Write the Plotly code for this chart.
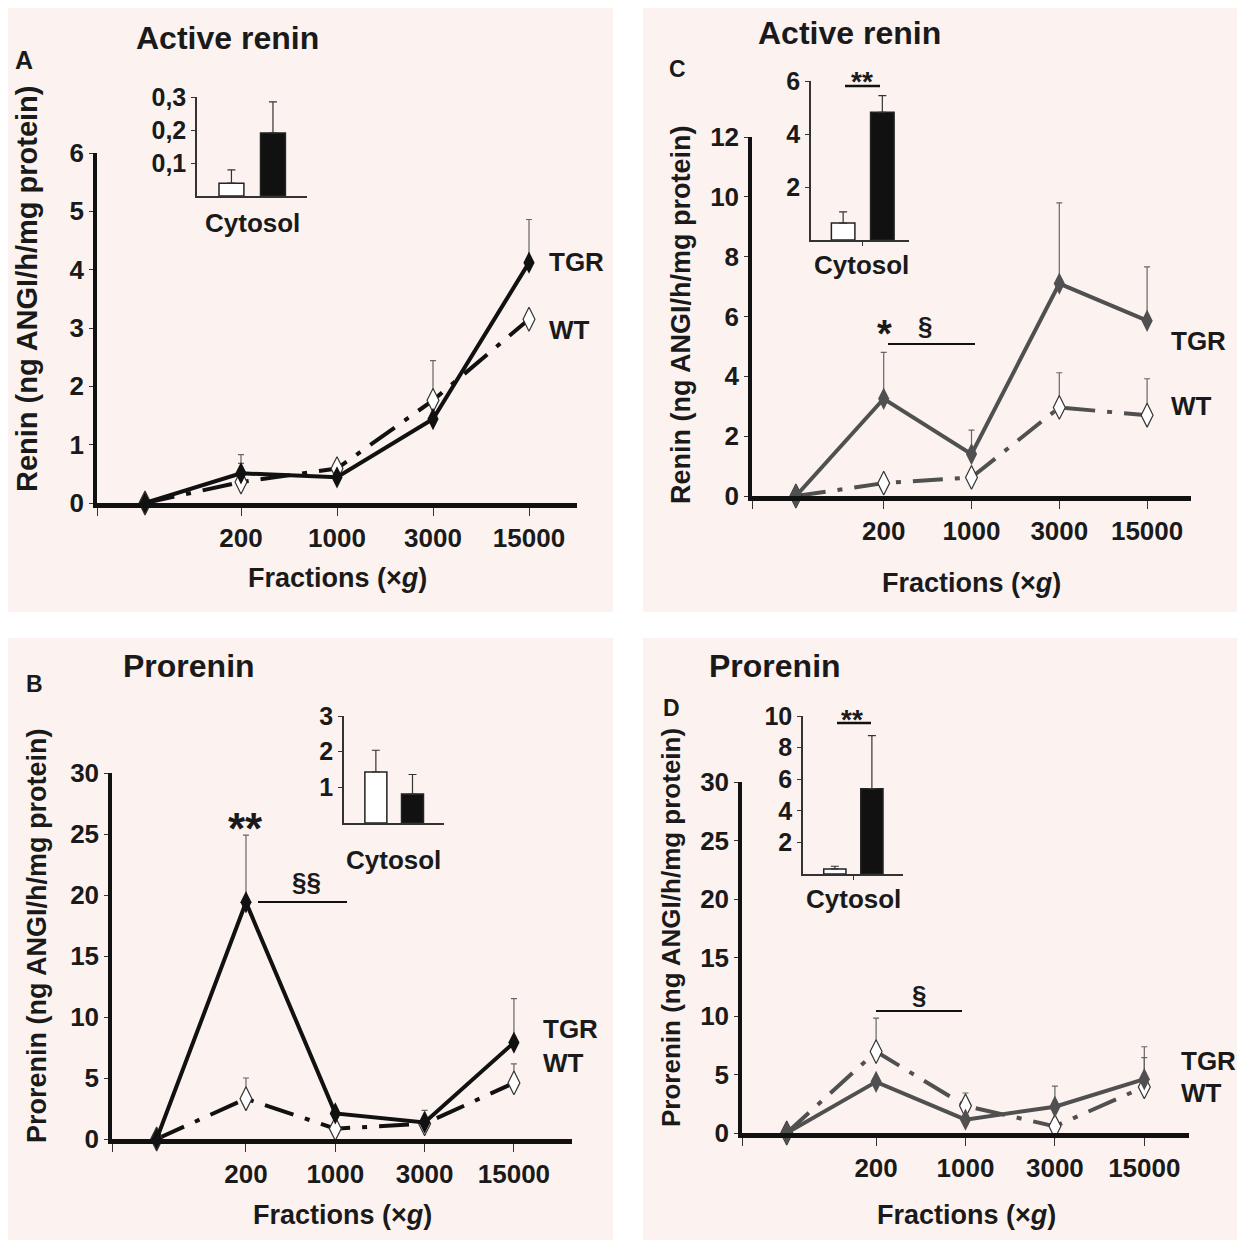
import plotly.graph_objects as go

# page offset (browser body margin) -> figure occupies screen px 8..1245
OFF = 8
W, H = 1245 - OFF, 1240 - OFF

# ---------------- data ----------------
fractions = ["", "200", "1000", "3000", "15000"]
xpos = [0, 1, 2, 3, 4]
groups = ["WT", "TGR"]

# Panel A - Active renin (black)
a_tgr = [0, 0.51, 0.44, 1.44, 4.12]
a_tgr_err = [None, 0.32, None, None, 0.74]
a_wt = [0, 0.36, 0.59, 1.76, 3.15]
a_wt_err = [None, 0.32, 0.11, 0.68, None]
a_cyto = [0.039, 0.191]
a_cyto_err = [0.040, 0.094]

# Panel C - Active renin (grey)
c_tgr = [0, 3.25, 1.40, 7.10, 5.86]
c_tgr_err = [None, 1.55, 0.80, 2.70, 1.80]
c_wt = [0, 0.43, 0.62, 2.96, 2.70]
c_wt_err = [None, None, None, 1.16, 1.22]
c_cyto = [0.64, 4.82]
c_cyto_err = [0.42, 0.63]

# Panel B - Prorenin (black)
b_tgr = [0, 19.4, 2.10, 1.35, 7.90]
b_tgr_err = [None, 5.5, None, 1.0, 3.6]
b_wt = [0, 3.30, 0.85, 1.25, 4.60]
b_wt_err = [None, 1.7, None, None, 1.55]
b_cyto = [1.43, 0.81]
b_cyto_err = [0.61, 0.55]

# Panel D - Prorenin (grey)
d_tgr = [0, 4.37, 1.14, 2.25, 4.60]
d_tgr_err = [None, None, None, 1.75, 2.77]
d_wt = [0, 6.96, 2.32, 0.57, 3.94]
d_wt_err = [None, 2.86, 1.10, None, 2.50]
d_cyto = [0.32, 5.40]
d_cyto_err = [0.17, 3.36]

# ---------------- layout helpers ----------------
FONT = "Liberation Sans, Arial, sans-serif"
TXT = "#1a1a1a"
PINK = "#fcf3f0"


def X(p):
    return (p - OFF) / W


def Y(p):
    return 1 - (p - OFF) / H


panels = [
    dict(tgr=a_tgr, tgr_err=a_tgr_err, wt=a_wt, wt_err=a_wt_err, cyto=a_cyto, cyto_err=a_cyto_err,
         color="#111111", main=(97, 577, 503, 153), xr=[-0.5, 4.5], yr=[0, 6], yticks=list(range(0, 7)),
         inset=(197, 307, 196, 97), ixr=[-0.83, 1.82], iyr=[0, 0.3],
         itv=[0.1, 0.2, 0.3], itt=["0,1", "0,2", "0,3"], imid=False),
    dict(tgr=c_tgr, tgr_err=c_tgr_err, wt=c_wt, wt_err=c_wt_err, cyto=c_cyto, cyto_err=c_cyto_err,
         color="#505050", main=(752, 1191, 496, 137), xr=[-0.5, 4.5], yr=[0, 12], yticks=list(range(0, 13, 2)),
         inset=(811, 909, 240, 81), ixr=[-0.82, 1.68], iyr=[0, 6],
         itv=[2, 4, 6], itt=["2", "4", "6"], imid=True),
    dict(tgr=b_tgr, tgr_err=b_tgr_err, wt=b_wt, wt_err=b_wt_err, cyto=b_cyto, cyto_err=b_cyto_err,
         color="#111111", main=(112, 572, 1139, 773), xr=[-0.5, 4.65], yr=[0, 30], yticks=list(range(0, 31, 5)),
         inset=(344, 444, 823, 716), ixr=[-0.87, 1.86], iyr=[0, 3],
         itv=[1, 2, 3], itt=["1", "2", "3"], imid=False),
    dict(tgr=d_tgr, tgr_err=d_tgr_err, wt=d_wt, wt_err=d_wt_err, cyto=d_cyto, cyto_err=d_cyto_err,
         color="#505050", main=(742, 1189, 1133, 782), xr=[-0.5, 4.5], yr=[0, 30], yticks=list(range(0, 31, 5)),
         inset=(803, 903, 874, 716), ixr=[-0.86, 1.84], iyr=[0, 10],
         itv=[2, 4, 6, 8, 10], itt=["2", "4", "6", "8", "10"], imid=True),
]

fig = go.Figure()
layout = dict(
    template="none",
    width=W, height=H, margin=dict(l=0, r=0, t=0, b=0, pad=0, autoexpand=False),
    paper_bgcolor="white", plot_bgcolor="rgba(0,0,0,0)",
    showlegend=False, font=dict(family=FONT, color=TXT),
)


def axname(k, letter):
    return f"{letter}axis" if k == 1 else f"{letter}axis{k}"


def ref(k, letter):
    return letter if k == 1 else f"{letter}{k}"


for i, p in enumerate(panels):
    km = i + 1
    ki = i + 5
    x0, x1, y0, y1 = p["main"]
    # main axes
    layout[axname(km, "x")] = dict(
        domain=[X(x0), X(x1)], anchor=ref(km, "y"), range=p["xr"], automargin=False,
        showline=True, linewidth=4.5, linecolor="#111111", mirror=False,
        ticks="outside", ticklen=8, tickwidth=1, tickcolor="#333333",
        tickvals=[-0.5] + xpos[1:], ticktext=fractions,
        tickfont=dict(size=26, weight="bold", family=FONT, color=TXT),
        showgrid=False, zeroline=False,
    )
    layout[axname(km, "y")] = dict(
        domain=[Y(y0), Y(y1)], anchor=ref(km, "x"), range=p["yr"], automargin=False,
        showline=True, linewidth=3.5, linecolor="#111111",
        ticks="outside", ticklen=4, tickwidth=1, tickcolor="#333333",
        tickvals=p["yticks"],
        tickfont=dict(size=26, weight="bold", family=FONT, color=TXT),
        showgrid=False, zeroline=False,
    )
    # inset axes
    ix0, ix1, iy0, iy1 = p["inset"]
    layout[axname(ki, "x")] = dict(
        domain=[X(ix0), X(ix1)], anchor=ref(ki, "y"), range=p["ixr"], automargin=False,
        showline=True, linewidth=1.5, linecolor="#333333",
        ticks="outside" if p["imid"] else "", ticklen=4, tickwidth=1, tickcolor="#333333",
        tickvals=[0.5] if p["imid"] else [], showticklabels=False,
        showgrid=False, zeroline=False,
    )
    layout[axname(ki, "y")] = dict(
        domain=[Y(iy0), Y(iy1)], anchor=ref(ki, "x"), range=p["iyr"], automargin=False,
        showline=True, linewidth=1.5, linecolor="#333333",
        ticks="outside", ticklen=4, tickwidth=1, tickcolor="#333333",
        tickvals=p["itv"], ticktext=p["itt"],
        tickfont=dict(size=25, weight="bold", family=FONT, color=TXT),
        showgrid=False, zeroline=False,
    )

    col = p["color"]
    # WT line (dash-dot, open diamonds)
    fig.add_trace(go.Scatter(
        x=xpos, y=p["wt"], mode="lines+markers",
        xaxis=ref(km, "x"), yaxis=ref(km, "y"),
        line=dict(color=col, width=4, dash="30px,12px,5px,12px"),
        marker=dict(symbol="diamond-tall", size=17, color="white", line=dict(color="#333333", width=1.2)),
        error_y=dict(type="data", array=p["wt_err"], arrayminus=[0] * 5, symmetric=False,
                     color="#666666", thickness=1.2, width=3),
        cliponaxis=False,
    ))
    # TGR line (solid, filled diamonds)
    fig.add_trace(go.Scatter(
        x=xpos, y=p["tgr"], mode="lines+markers",
        xaxis=ref(km, "x"), yaxis=ref(km, "y"),
        line=dict(color=col, width=4),
        marker=dict(symbol="diamond-tall", size=16, color=col, line=dict(width=0)),
        error_y=dict(type="data", array=p["tgr_err"], arrayminus=[0] * 5, symmetric=False,
                     color="#666666", thickness=1.2, width=3),
        cliponaxis=False,
    ))
    # inset bars
    fig.add_trace(go.Bar(
        x=[0, 1], y=p["cyto"], width=0.6,
        xaxis=ref(ki, "x"), yaxis=ref(ki, "y"),
        marker=dict(color=["white", "#111111"], line=dict(color="#222222", width=1.5)),
        error_y=dict(type="data", array=p["cyto_err"], arrayminus=[0, 0], symmetric=False,
                     color="#333333", thickness=1.2, width=4),
        customdata=groups,
    ))

# ---------------- background panels ----------------
shapes = []
for (px0, py0, px1, py1) in [(7, 4, 613, 612), (643, 4, 1245, 612), (7, 638, 613, 1240), (643, 638, 1245, 1240)]:
    shapes.append(dict(type="rect", xref="paper", yref="paper",
                       x0=max(X(px0), 0), x1=min(X(px1), 1), y0=max(Y(py1), 0), y1=min(Y(py0), 1),
                       fillcolor=PINK, line=dict(width=0), layer="below"))

# significance bars
for (sx0, sx1, sy, w) in [(888, 975, 344, 2), (845, 880, 86, 2.5), (258, 347, 902, 2),
                          (876, 962, 1011, 2), (837, 871, 723, 2.5)]:
    shapes.append(dict(type="line", xref="paper", yref="paper", x0=X(sx0), x1=X(sx1), y0=Y(sy), y1=Y(sy),
                       line=dict(color="#111111", width=w), layer="above"))

annotations = []


def ann(text, x, y, size, bold=True, angle=0, xanchor="center", color=TXT):
    annotations.append(dict(
        text=text, x=X(x), y=Y(y), xref="paper", yref="paper", showarrow=False,
        xanchor=xanchor, yanchor="middle", textangle=angle,
        font=dict(family=FONT, size=size, color=color, weight="bold" if bold else "normal"),
    ))


# titles
ann("Active renin", 227, 38, 32)
ann("Active renin", 850, 33, 32)
ann("Prorenin", 189, 666, 32)
ann("Prorenin", 775, 666, 32)
# panel letters
ann("A", 24, 60, 25)
ann("C", 677, 69, 23)
ann("B", 34, 684, 23)
ann("D", 671, 708, 23)
# y-axis titles
ann("Renin (ng ANGI/h/mg protein)", 27, 289, 29, angle=-90)
ann("Renin (ng ANGI/h/mg protein)", 681, 315, 27, angle=-90)
ann("Prorenin (ng ANGI/h/mg protein)", 37, 936, 27, angle=-90)
ann("Prorenin (ng ANGI/h/mg protein)", 671, 928, 26, angle=-90)
# x-axis titles
ann("Fractions (×<i>g</i>)", 337, 578, 27)
ann("Fractions (×<i>g</i>)", 971, 583, 27)
ann("Fractions (×<i>g</i>)", 342, 1215, 27)
ann("Fractions (×<i>g</i>)", 966, 1215, 27)
# series labels
ann("TGR", 547, 262, 26, xanchor="left")
ann("WT", 547, 330, 26, xanchor="left")
ann("TGR", 1169, 341, 26, xanchor="left")
ann("WT", 1169, 406, 26, xanchor="left")
ann("TGR", 541, 1029, 26, xanchor="left")
ann("WT", 541, 1063, 26, xanchor="left")
ann("TGR", 1179, 1061, 26, xanchor="left")
ann("WT", 1179, 1093, 26, xanchor="left")
# cytosol labels
ann("Cytosol", 252, 223, 26)
ann("Cytosol", 861, 265, 26)
ann("Cytosol", 393, 860, 26)
ann("Cytosol", 853, 899, 26)
# significance marks
ann("*", 884, 334, 38)
ann("§", 925, 326, 26)
ann("**", 862, 82, 28)
ann("**", 245, 828, 44)
ann("§§", 306, 882, 26)
ann("§", 919, 995, 26)
ann("**", 852, 719, 28)

layout["shapes"] = shapes
layout["annotations"] = annotations
fig.update_layout(**layout)

fig.write_html("out.html")
